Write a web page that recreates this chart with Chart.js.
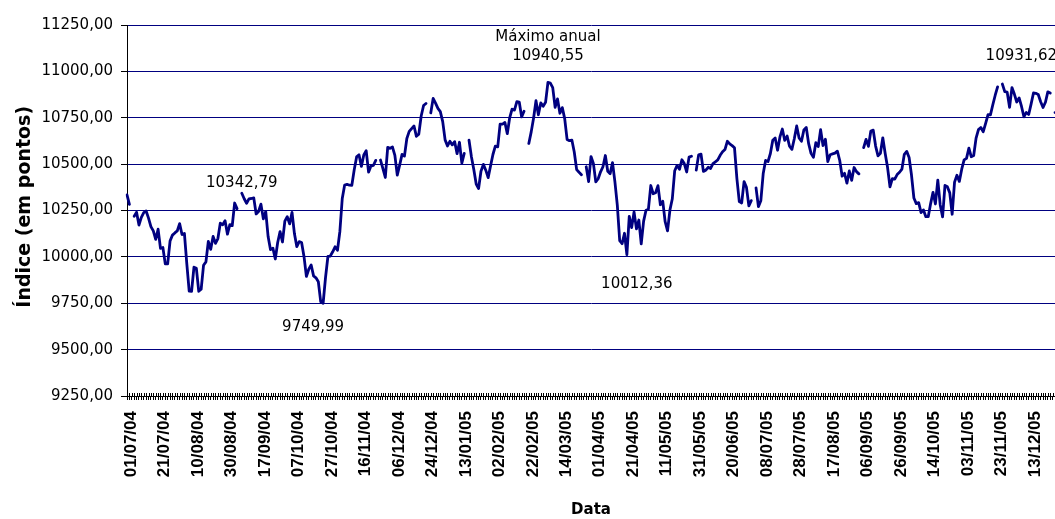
<!DOCTYPE html>
<html lang="pt">
<head>
<meta charset="utf-8">
<title>Índice diário – jul/2004 a dez/2005</title>
<script src="https://cdn.jsdelivr.net/npm/chart.js@4.4.1/dist/chart.umd.min.js"></script>
<style>
  html, body { margin: 0; padding: 0; background: #fff; }
  canvas { display: block; background: #fff; }
</style>
</head>
<body>
<canvas id="chart" width="1055" height="519"></canvas>
<script>
// Daily closing values (pontos), one entry per weekday; null = market closed.
const close2004Q3 = [
  // julho
  10334.16, 10282.83, null, 10219.34, 10240.29, 10171.56, 10213.22, 10238.22, 10247.59, 10208.80, 10163.16,
  10139.78, 10094.06, 10149.07, 10046.13, 10050.33, 9962.22, 9961.92, 10085.14, 10117.14, 10129.24, 10139.71,
  // agosto
  10179.16, 10120.24, 10126.51, 9963.03, 9815.33, 9814.66, 9944.67, 9938.32, 9814.59, 9825.35, 9954.55,
  9972.83, 10083.15, 10040.82, 10110.14, 10073.05, 10098.63, 10181.74, 10173.41, 10195.01, 10122.52, 10173.92,
  // setembro
  10168.46, 10290.28, 10260.20, null, 10342.79, 10313.36, 10289.10, 10313.07, 10314.76, 10318.16, 10231.36,
  10244.49, 10284.46, 10204.89, 10244.93, 10109.18, 10038.90, 10047.24, 9988.54, 10077.40, 10136.24, 10080.27
];
const close2004Q4 = [
  // outubro
  10192.65, 10216.54, 10177.68, 10239.92, 10125.40, 10055.20, 10081.97, 10077.18, 10002.33, 9894.45, 9933.38,
  9956.32, 9897.62, 9886.93, 9865.76, 9757.81, 9749.99, 9888.48, 10002.03, 10004.54, 10027.47,
  // novembro
  10054.39, 10035.73, 10137.05, 10314.76, 10387.54, 10391.31, 10386.37, 10385.48, 10469.84, 10539.01, 10550.24,
  10487.65, 10549.57, 10572.55, 10456.91, 10489.42, 10492.60, 10520.31, null, 10522.23, 10475.90, 10428.02,
  // dezembro
  10590.22, 10585.12, 10592.21, 10547.06, 10440.58, 10494.23, 10552.82, 10543.22, 10638.32, 10676.45, 10691.45,
  10705.64, 10649.92, 10661.60, 10759.43, 10815.89, 10827.12, null, 10776.13, 10854.54, 10829.19, 10800.30, 10783.01
];
const close2005Q1 = [
  // janeiro
  10729.43, 10630.78, 10597.83, 10622.88, 10603.96, 10621.03, 10556.22, 10617.78, 10505.83, 10558.00, null,
  10628.79, 10539.97, 10471.47, 10392.99, 10368.61, 10461.56, 10498.59, 10467.40, 10427.20, 10489.94,
  // fevereiro
  10551.94, 10596.79, 10593.10, 10716.13, 10715.76, 10724.63, 10664.11, 10749.61, 10796.01, 10791.13,
  10837.32, 10834.88, 10754.26, 10785.22, null, 10611.20, 10673.79, 10748.79, 10841.60, 10766.23,
  // março
  10830.00, 10811.97, 10833.03, 10940.55, 10936.86, 10912.62, 10805.62, 10851.51, 10774.36, 10804.51, 10745.10,
  10633.07, 10626.35, 10629.67, 10565.39, 10470.51, 10456.02, 10442.87, null, 10485.65, 10405.70, 10540.93, 10503.76
];
const close2005Q2 = [
  // abril
  10404.30, 10421.14, 10458.46, 10486.02, 10546.32, 10461.34, 10448.56, 10507.97, 10403.93, 10278.75, 10087.51,
  10071.25, 10127.41, 10012.36, 10218.60, 10157.71, 10242.47, 10151.13, 10198.80, 10070.37, 10192.51,
  // maio
  10251.70, 10256.95, 10384.64, 10340.38, 10345.40, 10384.34, 10281.11, 10300.25, 10189.48, 10140.12, 10252.29,
  10313.36, 10464.45, 10493.19, 10471.91, 10523.56, 10503.02, 10457.80, 10537.60, 10542.55, null, 10467.48,
  // junho
  10549.87, 10553.49, 10460.97, 10467.03, 10483.07, 10476.86, 10503.02, 10512.63, 10522.56, 10547.57, 10566.37,
  10578.65, 10623.07, 10609.11, 10599.67, 10587.93, 10421.44, 10297.84, 10290.78, 10405.63, 10374.48, 10274.97
];
const close2005Q3 = [
  // julho
  10303.44, null, 10371.80, 10270.68, 10302.29, 10449.14, 10519.72, 10513.89, 10557.39, 10628.89, 10640.83,
  10574.99, 10646.56, 10689.15, 10627.77, 10651.18, 10596.48, 10579.77, 10637.09, 10705.55, 10640.91,
  // agosto
  10623.15, 10683.74, 10697.59, 10610.10, 10558.03, 10536.93, 10615.67, 10594.41, 10685.89, 10600.31, 10634.38,
  10513.45, 10550.71, 10554.93, 10559.23, 10569.89, 10519.58, 10434.87, 10450.63, 10397.29, 10463.05, 10412.82, 10481.60,
  // setembro
  10459.63, 10447.37, null, 10589.24, 10633.50, 10595.93, 10678.56, 10682.94, 10597.44, 10544.08, 10558.75,
  10641.94, 10557.63, 10481.52, 10378.03, 10422.05, 10419.59, 10443.63, 10456.21, 10473.09, 10552.78, 10568.70
];
const close2005Q4 = [
  // outubro
  10535.48, 10441.11, 10317.36, 10287.34, 10292.31, 10238.76, 10253.17, 10216.59, 10216.91, 10287.10, 10348.10,
  10285.26, 10414.13, 10281.10, 10215.22, 10385.00, 10377.87, 10344.98, 10229.95, 10402.77, 10440.07,
  // novembro
  10406.77, 10472.73, 10522.59, 10530.76, 10586.23, 10539.72, 10546.21, 10640.10, 10686.04, 10697.17, 10674.76,
  10720.22, 10766.33, 10765.28, 10820.28, 10871.43, 10916.09, null, 10931.62, 10890.72, 10888.16, 10805.87,
  // dezembro
  10912.57, 10877.51, 10835.01, 10856.86, 10810.91, 10755.12, 10778.58, 10767.77, 10823.72, 10883.51, 10881.67,
  10875.59, 10836.53, 10805.55, 10833.73, 10889.44, 10883.27, null, 10777.77
];

// Period covered (weekdays only) and the dates printed under the axis.
const firstDay = '2004-07-01';
const lastDay = '2005-12-27';
const tickLabels = [
  '01/07/04', '21/07/04', '10/08/04', '30/08/04', '17/09/04', '07/10/04', '27/10/04',
  '16/11/04', '06/12/04', '24/12/04', '13/01/05', '02/02/05', '22/02/05', '14/03/05',
  '01/04/05', '21/04/05', '11/05/05', '31/05/05', '20/06/05', '08/07/05', '28/07/05',
  '17/08/05', '06/09/05', '26/09/05', '14/10/05', '03/11/05', '23/11/05', '13/12/05'
];

// Highlighted closes: date of the point and an optional caption line above it.
const highlights = [
  { date: '07/09/04', caption: null },
  { date: '25/10/04', caption: null },
  { date: '04/03/05', caption: 'Máximo anual' },
  { date: '20/04/05', caption: null },
  { date: '25/11/05', caption: null }
];
// Where each highlight's text sits relative to its point (pixels).
const highlightOffsets = {
  '07/09/04': [0, -10],
  '25/10/04': [-10, 24],
  '04/03/05': [0, -26],
  '20/04/05': [10, 30],
  '25/11/05': [19, -28]
};

const yTitle = 'Índice (em pontos)';

function weekdayLabels(from, to) {
  const out = [];
  const d = new Date(from + 'T12:00:00Z');
  const end = new Date(to + 'T12:00:00Z');
  while (d <= end) {
    const wd = d.getUTCDay();
    if (wd !== 0 && wd !== 6) {
      const dd = String(d.getUTCDate()).padStart(2, '0');
      const mm = String(d.getUTCMonth() + 1).padStart(2, '0');
      const yy = String(d.getUTCFullYear()).slice(2);
      out.push(dd + '/' + mm + '/' + yy);
    }
    d.setUTCDate(d.getUTCDate() + 1);
  }
  return out;
}

const categories = weekdayLabels(firstDay, lastDay);
const closes = [].concat(close2004Q3, close2004Q4, close2005Q1, close2005Q2, close2005Q3, close2005Q4);

const fmt = v => v.toFixed(2).replace('.', ',');

// Value labels written next to the highlighted points.
const highlightPlugin = {
  id: 'highlightLabels',
  afterDatasetsDraw(chart) {
    const { ctx, scales: { x, y } } = chart;
    ctx.save();
    ctx.font = '15px "DejaVu Sans"';
    ctx.fillStyle = '#000';
    ctx.textAlign = 'center';
    ctx.textBaseline = 'middle';
    highlights.forEach(h => {
      const i = categories.indexOf(h.date);
      const v = closes[i];
      const [dx, dy] = highlightOffsets[h.date];
      const px = x.getPixelForValue(i) + dx;
      const py = y.getPixelForValue(v) + dy;
      if (h.caption) ctx.fillText(h.caption, px, py - 19);
      ctx.fillText(fmt(v), px, py);
    });
    ctx.restore();
  }
};

// Short marks above the category axis so each day's tick crosses the axis line,
// plus the vertical title of the value axis.
const axisExtrasPlugin = {
  id: 'axisExtras',
  afterDraw(chart) {
    const { ctx, scales: { x, y }, chartArea } = chart;
    ctx.save();
    ctx.strokeStyle = '#000';
    ctx.lineWidth = 1;
    ctx.beginPath();
    for (let i = 0; i < categories.length; i++) {
      const px = Math.round(x.getPixelForValue(i)) + 0.5;
      ctx.moveTo(px, chartArea.bottom - 3);
      ctx.lineTo(px, chartArea.bottom);
    }
    ctx.stroke();

    ctx.translate(25, y.getPixelForValue(10270));
    ctx.rotate(-Math.PI / 2);
    ctx.font = 'bold 19px "DejaVu Sans"';
    ctx.fillStyle = '#000';
    ctx.textAlign = 'center';
    ctx.textBaseline = 'middle';
    ctx.fillText(yTitle, 0, 0);
    ctx.restore();
  }
};

new Chart(document.getElementById('chart'), {
  type: 'line',
  data: {
    labels: categories,
    datasets: [{
      data: closes,
      borderColor: '#000080',
      borderWidth: 2.8,
      pointRadius: 0,
      pointHoverRadius: 0,
      tension: 0,
      spanGaps: false,
      borderJoinStyle: 'round',
      borderCapStyle: 'round'
    }]
  },
  options: {
    responsive: false,
    animation: false,
    devicePixelRatio: 1,
    layout: { padding: { top: 25, right: 0, bottom: 0, left: 0 } },
    plugins: {
      legend: { display: false },
      tooltip: { enabled: false }
    },
    scales: {
      x: {
        type: 'category',
        offset: false,
        border: { display: true, color: '#000', width: 1 },
        grid: {
          display: true,
          drawOnChartArea: false,
          drawTicks: true,
          tickLength: 4,
          color: '#000',
          tickColor: '#000',
          lineWidth: 1
        },
        ticks: {
          autoSkip: false,
          minRotation: 90,
          maxRotation: 90,
          padding: 11,
          labelOffset: 4,
          color: '#000',
          font: { family: '"Liberation Sans", Arial, sans-serif', size: 17, weight: 'bold' },
          callback(value, index) {
            const label = categories[index];
            return tickLabels.includes(label) ? label : '';
          }
        },
        title: {
          display: true,
          text: 'Data',
          color: '#000',
          font: { family: '"DejaVu Sans", sans-serif', size: 15, weight: 'bold' },
          padding: { top: 0, bottom: 0 }
        },
        afterFit(scale) {
          scale.height = 123;
          scale.paddingLeft = 0;
          scale.paddingRight = 0;
        }
      },
      y: {
        min: 9250,
        max: 11250,
        border: { display: true, color: '#000', width: 1 },
        grid: {
          color: '#000080',
          tickColor: '#000',
          tickLength: 6,
          lineWidth: 1
        },
        ticks: {
          stepSize: 250,
          padding: 8,
          color: '#000',
          font: { family: '"DejaVu Sans", sans-serif', size: 15 },
          callback: v => fmt(v)
        },
        afterFit(scale) {
          scale.width = 127;
          scale.paddingTop = 0;
          scale.paddingBottom = 0;
        }
      }
    }
  },
  plugins: [highlightPlugin, axisExtrasPlugin]
});
</script>
</body>
</html>
